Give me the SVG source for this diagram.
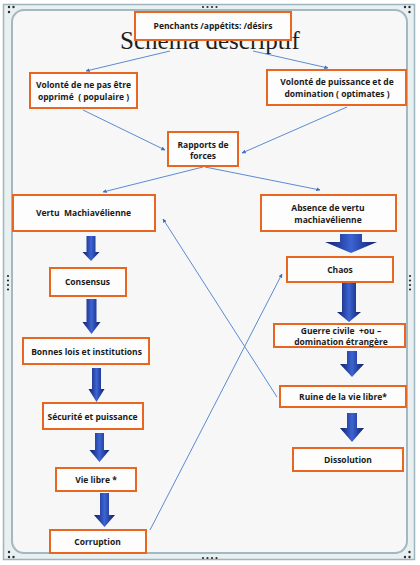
<svg xmlns="http://www.w3.org/2000/svg" width="420" height="565" viewBox="0 0 420 565">
<defs>
<linearGradient id="ag" x1="0" y1="0" x2="1" y2="0">
<stop offset="0" stop-color="#0d1c6a"/>
<stop offset="0.5" stop-color="#3c64d2"/>
<stop offset="1" stop-color="#0d1c6a"/>
</linearGradient>
<marker id="ah" viewBox="0 0 6 6" refX="5.5" refY="3" markerWidth="4" markerHeight="4" orient="auto" markerUnits="userSpaceOnUse">
<path d="M0,0 L6,3 L0,6 Z" fill="#3a6cc4"/>
</marker>
<style>
.box{fill:#fdfdfd;stroke:#e8661f;stroke-width:2}
.t{font-family:"Open Sans","Noto Sans",sans-serif;font-weight:bold;font-size:8.5px;fill:#1a1a1a;text-anchor:middle}
.big{fill:url(#ag)}
.ln{stroke:#5b8bd0;stroke-width:1;fill:none;marker-end:url(#ah)}
.dot{fill:#2a2a2a}
</style>
</defs>
<g id="frame">
<rect x="3.5" y="4.5" width="411" height="555" fill="#e9f0f2" stroke="#9fb5bd" stroke-width="1.5"/>
<rect x="12" y="10" width="395" height="543" rx="12" fill="#f7f7f7" stroke="#a3b8c0" stroke-width="2"/>
<g class="dot">
<circle cx="9" cy="7" r="1.2"/><circle cx="13.5" cy="7" r="1.2"/><circle cx="9" cy="12" r="1.2"/>
<circle cx="405" cy="7" r="1.2"/><circle cx="409.5" cy="7" r="1.2"/><circle cx="409.5" cy="12" r="1.2"/>
<circle cx="9" cy="552" r="1.2"/><circle cx="9" cy="557" r="1.2"/><circle cx="13.5" cy="557" r="1.2"/>
<circle cx="409.5" cy="552" r="1.2"/><circle cx="409.5" cy="557" r="1.2"/><circle cx="405" cy="557" r="1.2"/>
<circle cx="203" cy="7" r="1.1"/><circle cx="207.5" cy="7" r="1.1"/><circle cx="212" cy="7" r="1.1"/><circle cx="216.5" cy="7" r="1.1"/>
<circle cx="203" cy="558" r="1.1"/><circle cx="207.5" cy="558" r="1.1"/><circle cx="212" cy="558" r="1.1"/><circle cx="216.5" cy="558" r="1.1"/>
<circle cx="8" cy="276" r="1.1"/><circle cx="8" cy="280.5" r="1.1"/><circle cx="8" cy="285" r="1.1"/><circle cx="8" cy="289.5" r="1.1"/>
<circle cx="410" cy="276" r="1.1"/><circle cx="410" cy="280.5" r="1.1"/><circle cx="410" cy="285" r="1.1"/><circle cx="410" cy="289.5" r="1.1"/>
</g>
</g>
<text x="210" y="48.5" font-family="Liberation Serif, serif" font-size="25" fill="#1e1e1e" text-anchor="middle">Schema descriptif</text>
<g id="connectors">
<line class="ln" x1="170" y1="51" x2="86" y2="71"/>
<line class="ln" x1="253" y1="51" x2="328" y2="68"/>
<line class="ln" x1="83" y1="110" x2="165" y2="150"/>
<line class="ln" x1="347" y1="107" x2="242" y2="153"/>
<line class="ln" x1="203" y1="167" x2="103" y2="192"/>
<line class="ln" x1="205" y1="167" x2="320" y2="190"/>
<line class="ln" x1="150" y1="530" x2="282" y2="274"/>
<line class="ln" x1="277" y1="397" x2="163" y2="219"/>
<path class="big" d="M86.5,236 H95.5 V252 H99.5 L91,261 L82.5,252 H86.5 Z"/>
<path class="big" d="M86.5,299 H96.5 V322 H100.5 L91.5,334 L82.5,322 H86.5 Z"/>
<path class="big" d="M92,368 H101 V389 H104.5 L96.5,402 L88.5,389 H92 Z"/>
<path class="big" d="M95,433 H104 V450 H109.5 L99.5,462 L89.5,450 H95 Z"/>
<path class="big" d="M100,493 H109 V515 H115 L104.5,527 L94,515 H100 Z"/>
<path class="big" d="M340,234 H362 V242 H377 L351,253 L325,242 H340 Z"/>
<path class="big" d="M342,283 H356 V312 H361 L349,322 L337,312 H342 Z"/>
<path class="big" d="M347,351 H357 V364 H364 L352,377 L340,364 H347 Z"/>
<path class="big" d="M347,413 H357 V428 H364 L352,442 L340,428 H347 Z"/>
</g>
<g id="penchants"><rect class="box" x="135" y="12" width="156" height="28"/><text class="t" x="213" y="28.5">Penchants /appétits: /désirs</text></g>
<g id="volonte-populaire"><rect class="box" x="30" y="73" width="107" height="35"/><text class="t" x="83.5" y="88">Volonté de ne pas être</text><text class="t" x="83.5" y="100" xml:space="preserve">opprimé  ( populaire )</text></g>
<g id="volonte-optimates"><rect class="box" x="267" y="70" width="139" height="35"/><text class="t" x="337" y="85">Volonté de puissance et de</text><text class="t" x="337" y="97">domination ( optimates )</text></g>
<g id="rapports"><rect class="box" x="168" y="132" width="70" height="34"/><text class="t" x="203" y="148">Rapports de</text><text class="t" x="203" y="159">forces</text></g>
<g id="vertu"><rect class="box" x="13" y="195" width="142" height="36"/><text class="t" x="83.5" y="216" xml:space="preserve">Vertu  Machiavélienne</text></g>
<g id="consensus"><rect class="box" x="50" y="268" width="76" height="28"/><text class="t" x="87.5" y="285">Consensus</text></g>
<g id="bonnes-lois"><rect class="box" x="23" y="338" width="126" height="26"/><text class="t" x="86.5" y="355">Bonnes lois et institutions</text></g>
<g id="securite"><rect class="box" x="43" y="403" width="100" height="26"/><text class="t" x="92.5" y="419.5">Sécurité et puissance</text></g>
<g id="vie-libre"><rect class="box" x="56" y="468" width="80" height="23"/><text class="t" x="96" y="482.5">Vie libre *</text></g>
<g id="corruption"><rect class="box" x="50" y="530" width="96" height="23"/><text class="t" x="97.5" y="544.5">Corruption</text></g>
<g id="absence"><rect class="box" x="261" y="195" width="135" height="36"/><text class="t" x="328" y="211">Absence de vertu</text><text class="t" x="328" y="222.5">machiavélienne</text></g>
<g id="chaos"><rect class="box" x="287" y="257" width="106" height="25"/><text class="t" x="340" y="273">Chaos</text></g>
<g id="guerre"><rect class="box" x="274" y="324" width="131" height="23"/><text class="t" x="341" y="333.5" xml:space="preserve">Guerre civile  +ou –</text><text class="t" x="341" y="345">domination étrangère</text></g>
<g id="ruine"><rect class="box" x="280" y="386" width="126" height="21"/><text class="t" x="343" y="399.5">Ruine de la vie libre*</text></g>
<g id="dissolution"><rect class="box" x="293" y="448" width="110" height="23"/><text class="t" x="348" y="463">Dissolution</text></g>
</svg>
